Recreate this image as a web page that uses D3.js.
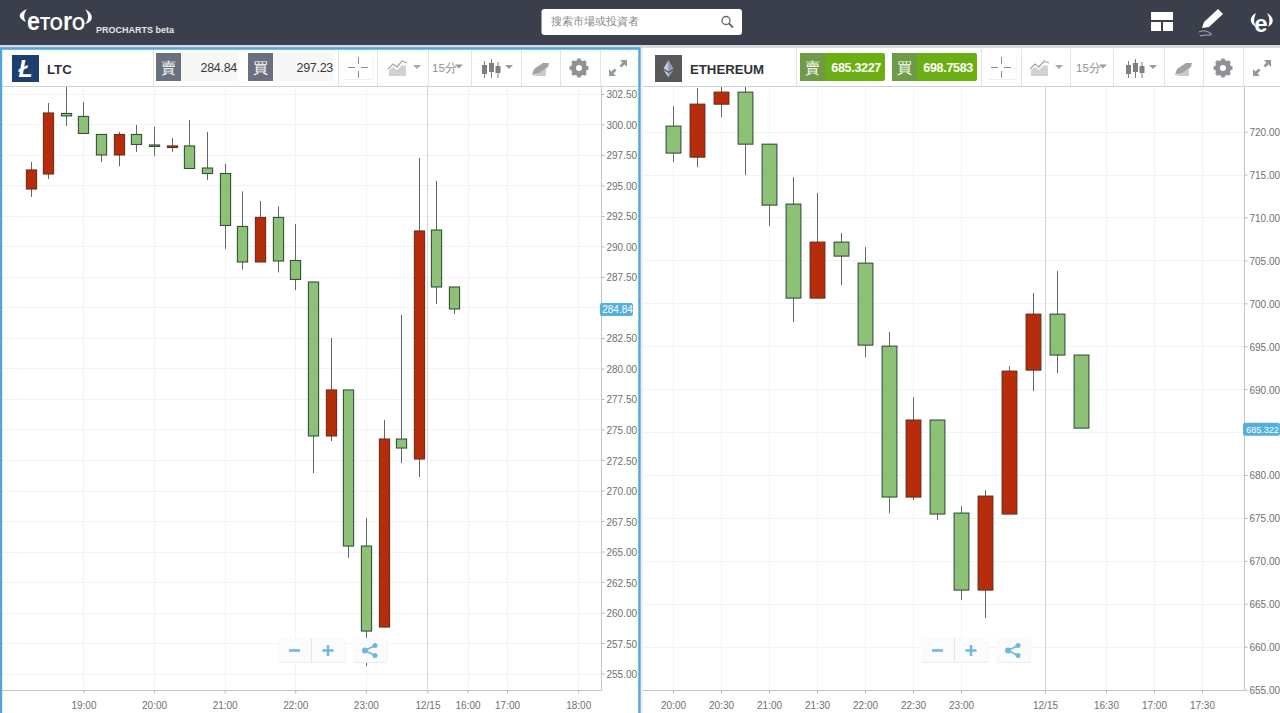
<!DOCTYPE html>
<html><head><meta charset="utf-8">
<script src="https://cdn.jsdelivr.net/npm/d3@7/dist/d3.min.js"></script>
<style>html,body{margin:0;padding:0;background:#fff;overflow:hidden}svg{display:block}
text{font-family:"Liberation Sans",Arial,sans-serif}</style></head><body>
<svg id="c" width="1280" height="713"></svg>
<script>
// ---- LTC data (15 min candles)
const ltcOpen =[294.71,295.94,300.9,300.66,299.18,297.5,299.18,298.32,298.11,298.24,296.43,295.98,291.64,288.73,292.38,288.85,287.09,274.47,278.24,265.45,258.81,274.22,272.58,291.35,286.68];
const ltcClose=[296.27,300.94,300.7,299.26,297.5,299.18,298.36,298.2,298.24,296.39,295.98,291.72,288.73,292.38,288.81,287.3,274.47,278.24,265.45,258.48,274.22,273.48,291.27,286.68,284.88];
const ltcHigh =[296.93,301.76,303.5,301.84,299.18,299.39,299.96,299.8,298.89,300.37,299.39,296.76,294.51,293.73,293.28,291.84,287.09,282.5,278.24,267.75,275.78,284.39,297.25,295.37,286.68];
const ltcLow  =[294.06,295.53,299.88,299.26,296.93,296.56,297.75,297.42,297.75,296.35,295.45,289.8,288.11,288.73,287.87,286.43,271.43,274.06,264.47,255.61,258.81,272.25,271.11,285.29,284.47];
const ltcYTicks=d3.range(255,302.51,2.5);
const ltcXTickSlots=[3,7,11,15,19,22.49,24.76,27,31.03];
const ltcXTickLabels=["19:00","20:00","21:00","22:00","23:00","12/15","16:00","17:00","18:00"];
// ---- ETHEREUM data (15 min candles)
const ethOpen =[720.64,717.03,723.2,724.6,718.54,711.56,700.61,707.13,704.68,695.01,677.43,686.4,675.56,666.59,675.45,692.22,698.74,693.97];
const ethClose=[717.5,723.2,724.6,718.54,711.44,700.61,707.13,705.5,695.13,677.43,686.4,675.45,666.59,677.54,692.1,698.74,693.97,685.46];
const ethHigh =[722.97,725.07,725.6,725.6,718.54,714.7,712.84,708.18,706.55,696.65,689.07,686.4,676.38,678.24,692.68,701.19,703.75,693.97];
const ethLow  =[716.45,715.86,721.69,714.93,709,697.81,700.61,702.12,693.73,675.56,677.08,674.75,665.43,663.33,675.45,689.77,691.87,685.46];
const ethYTicks=d3.range(655,720.1,5);
const ethXTickSlots=[0,2,4,6,8,10,12,15.5,18.04,20.04,22.04];
const ethXTickLabels=["20:00","20:30","21:00","21:30","22:00","22:30","23:00","12/15","16:30","17:00","17:30"];

const svg=d3.select("#c");
const UI='"Open Sans","Noto Sans CJK TC",sans-serif';
const CJK='"Noto Sans CJK TC",sans-serif';

// page chrome
svg.append("rect").attr("width",1280).attr("height",713).attr("fill","#fff");
svg.append("rect").attr("width",1280).attr("height",45).attr("fill","#3b3f4c");
svg.append("rect").attr("y",45).attr("width",1280).attr("height",3).attr("fill","#d9dadc");

function chart(cfg){
  const g=svg.append("g");
  const x=d3.scaleLinear().domain([0,cfg.open.length-1]).range(cfg.xr);
  const y=d3.scaleLinear().domain(cfg.yd).range([cfg.top,cfg.bottom]);
  const clipId="clip"+cfg.id;
  svg.append("clipPath").attr("id",clipId).append("rect")
    .attr("x",cfg.left).attr("y",cfg.top).attr("width",cfg.right-cfg.left).attr("height",cfg.bottom-cfg.top);
  const grid=g.append("g");
  cfg.yTicks.forEach(v=>grid.append("line").attr("x1",cfg.left).attr("x2",cfg.right)
    .attr("y1",Math.round(y(v))+.5).attr("y2",Math.round(y(v))+.5).attr("stroke","#f3f3f3"));
  cfg.xSlots.forEach((s,i)=>grid.append("line").attr("x1",Math.round(x(s))+.5).attr("x2",Math.round(x(s))+.5)
    .attr("y1",cfg.top).attr("y2",cfg.bottom).attr("stroke",cfg.xLabels[i]==="12/15"?"#d6d6d6":"#f3f3f3"));
  const marks=g.append("g").attr("clip-path",`url(#${clipId})`);
  const n=d3.range(cfg.open.length);
  marks.selectAll("line").data(n).join("line")
    .attr("x1",i=>Math.round(x(i))+.5).attr("x2",i=>Math.round(x(i))+.5)
    .attr("y1",i=>y(cfg.high[i])).attr("y2",i=>y(cfg.low[i])).attr("stroke","#666").attr("stroke-width",1);
  marks.selectAll("rect").data(n).join("rect")
    .attr("x",i=>Math.round(x(i))+.5-cfg.bw/2).attr("width",cfg.bw)
    .attr("y",i=>y(Math.max(cfg.open[i],cfg.close[i])))
    .attr("height",i=>Math.max(1,Math.abs(y(cfg.open[i])-y(cfg.close[i]))))
    .attr("fill",i=>cfg.close[i]>=cfg.open[i]?"#b72d0b":"#8dc177")
    .attr("stroke",i=>cfg.close[i]>=cfg.open[i]?"#66301c":"#37503a").attr("stroke-width",1.1);
  // axes (the tick under the last-price flag carries no label, as in the reference)
  const fmt=d3.format(".2f");
  const yAxis=d3.axisRight(y).tickValues(cfg.yTicks).tickFormat(d=>d===cfg.hiddenTick?"":fmt(d)).tickSize(3).tickPadding(2);
  const ya=g.append("g").attr("transform",`translate(${cfg.right+.5},0)`).call(yAxis);
  ya.selectAll("text").attr("dy","0.4em");
  const xAxis=d3.axisBottom(x).tickValues(cfg.xSlots).tickFormat((d,i)=>cfg.xLabels[i]).tickSize(3).tickPadding(8);
  const xa=g.append("g").attr("transform",`translate(0,${cfg.bottom+.5})`).call(xAxis);
  [ya,xa].forEach(a=>{a.selectAll("path").attr("stroke","#c4c4c4").attr("d",null);
    a.selectAll("line").attr("stroke","#b5b5b5");
    a.selectAll("text").attr("fill","#707070").attr("font-size",10).attr("font-family",'"Liberation Sans",Arial,sans-serif');});
  g.append("line").attr("x1",cfg.right+.5).attr("x2",cfg.right+.5).attr("y1",cfg.top).attr("y2",cfg.bottom+.5).attr("stroke","#c4c4c4");
  g.append("line").attr("x1",cfg.left).attr("x2",cfg.right+.5).attr("y1",cfg.bottom+.5).attr("y2",cfg.bottom+.5).attr("stroke","#c4c4c4");
  // last price flag
  const py=y(cfg.last);
  g.append("rect").attr("x",cfg.right-1).attr("y",py-6.5).attr("width",cfg.flagW).attr("height",13).attr("rx",2).attr("fill","#55b1dc");
  g.append("text").attr("x",cfg.right+cfg.flagW/2).attr("y",py+3.5).attr("text-anchor","middle").attr("font-size",cfg.flagFont).attr("fill","#fff").text(cfg.lastLabel);
  // toolbar
  const o=cfg.tb;
  g.append("line").attr("x1",cfg.left).attr("x2",cfg.tbRight).attr("y1",cfg.top-.5).attr("y2",cfg.top-.5).attr("stroke","#cfd2d6");
  o.dividers.forEach(d=>g.append("line").attr("x1",d+.5).attr("x2",d+.5).attr("y1",49).attr("y2",86).attr("stroke","#e4e4e4"));
  // logo
  g.append("rect").attr("x",o.logo).attr("y",55).attr("width",27).attr("height",27).attr("fill",cfg.logoColor);
  if(cfg.id==="ltc"){
    g.append("text").attr("x",o.logo+13.5).attr("y",76.5).attr("text-anchor","middle").attr("font-size",23).attr("font-weight",700)
     .attr("font-style","italic").attr("fill","#fff").attr("font-family","DejaVu Sans").text("Ł");
  } else {
    const c=o.logo+13.5;
    g.append("path").attr("d",`M${c} 60L${c+5} 68.5L${c} 71.5Z`).attr("fill","#8f9bb8");
    g.append("path").attr("d",`M${c} 60L${c-5} 68.5L${c} 71.5Z`).attr("fill","#c4cbe0");
    g.append("path").attr("d",`M${c} 73L${c+5} 70L${c} 77.5Z`).attr("fill","#8f9bb8");
    g.append("path").attr("d",`M${c} 73L${c-5} 70L${c} 77.5Z`).attr("fill","#c4cbe0");
  }
  g.append("text").attr("x",o.logo+35).attr("y",73.5).attr("font-size",13.2).attr("font-weight",700).attr("fill","#2f3238")
    .attr("font-family",UI).text(cfg.name);
  // price boxes
  [[o.sell,"賣",cfg.sell,o.sellW],[o.buy,"買",cfg.buy,o.buyW]].forEach(b=>{
    g.append("rect").attr("x",b[0]).attr("y",53).attr("width",25+b[3]).attr("height",28).attr("rx",2).attr("fill",cfg.valBg);
    g.append("rect").attr("x",b[0]).attr("y",53).attr("width",25).attr("height",28).attr("fill",cfg.lblBg);
    g.append("text").attr("x",b[0]+12.5).attr("y",73).attr("text-anchor","middle").attr("font-size",15).attr("fill","#fff").attr("font-family",CJK).text(b[1]);
    g.append("text").attr("x",b[0]+25+b[3]-cfg.valInset).attr("y",72).attr("text-anchor","end").attr("font-size",12.5).attr("font-weight",cfg.valWeight)
      .attr("fill",cfg.valColor).attr("font-family",UI).attr("letter-spacing",-.3).text(b[2]);
  });
  // crosshair button
  const cx=o.cross;
  g.append("rect").attr("x",cx-14.5).attr("y",54).attr("width",30).attr("height",26).attr("rx",3).attr("fill","#ededed");
  g.append("rect").attr("x",cx-15).attr("y",53).attr("width",30).attr("height",26).attr("rx",3).attr("fill","#fff");
  g.append("path").attr("d",`M${cx-10} 67.5h7M${cx+3} 67.5h7M${cx+.5} 57v7M${cx+.5} 71v7`).attr("stroke","#8a8a8a").attr("fill","none");
  // line icon
  const ic="#a4a7ab";
  g.append("path").attr("d",`M${o.line-9} 76v-6l4-3 4 3 5-5 4 1v10z`).attr("fill","#cfd1d4");
  g.append("path").attr("d",`M${o.line-10} 69l5-5 4 3 5-6 5 2`).attr("stroke",ic).attr("fill","none").attr("stroke-width",1.3);
  g.append("path").attr("d",`M${o.line+15} 65h8l-4 4z`).attr("fill",ic);
  g.append("text").attr("x",o.tf).attr("y",72).attr("font-size",11.5).attr("fill","#8d8f93").attr("font-family",CJK).text("15分");
  g.append("path").attr("d",`M${o.tf+23} 64.5h8l-4 4z`).attr("fill","#9a9a9a");
  // candle icon
  [-6.5,0.5,7].forEach((d,i)=>{const c=o.candle+d;
    g.append("path").attr("d",`M${c} ${[61,59,62][i]}v${[17,19,16][i]}`).attr("stroke","#7d7f83");
    g.append("rect").attr("x",c-2.5).attr("y",[65,63,66][i]).attr("width",5).attr("height",[9,9,7][i]).attr("fill","#7d7f83");});
  g.append("path").attr("d",`M${o.candle+14} 65h8l-4 4z`).attr("fill","#9a9a9a");
  // pen icon
  g.append("path").attr("d",`M${o.pen-8} 76l13 -8v8z`).attr("fill","#c9cbce");
  g.append("path").attr("d",`M${o.pen-9} 75l2-6 9-6 6 0 -1 4 -9 6z`).attr("fill","#a0a2a6");
  // gear
  const gx=o.gear;
  g.append("circle").attr("cx",gx).attr("cy",68).attr("r",5.5).attr("fill","none").attr("stroke","#8f9195").attr("stroke-width",5);
  d3.range(8).forEach(k=>g.append("rect").attr("x",gx-1.8).attr("y",58.5).attr("width",3.6).attr("height",3.5).attr("fill","#8f9195").attr("transform",`rotate(${k*45} ${gx} 68)`));
  // expand
  const ex=o.expand;
  g.append("path").attr("d",`M${ex+2} 60h7v7l-2.5-2.5-3 3-2-2 3-3zM${ex-2} 76h-7v-7l2.5 2.5 3-3 2 2-3 3z`).attr("fill","#8f9a9f");
  // zoom buttons
  const z=cfg.zoom;
  const zg=g.append("g");
  zg.append("rect").attr("x",z+.5).attr("y",639).attr("width",67).attr("height",24).attr("rx",2).attr("fill","#ececec");
  zg.append("rect").attr("x",z).attr("y",638).attr("width",67).attr("height",24).attr("rx",2).attr("fill","#fbfbfb");
  zg.append("line").attr("x1",z+33.5).attr("x2",z+33.5).attr("y1",638).attr("y2",662).attr("stroke","#e4e4e4");
  zg.append("rect").attr("x",z+75.5).attr("y",639).attr("width",34).attr("height",24).attr("rx",2).attr("fill","#ececec");
  zg.append("rect").attr("x",z+75).attr("y",638).attr("width",34).attr("height",24).attr("rx",2).attr("fill","#fbfbfb");
  const b="#6fb8da";
  zg.append("path").attr("d",`M${z+11} 650.5h11M${z+44.5} 650.5h11M${z+50} 645v11`).attr("stroke",b).attr("stroke-width",2.4);
  zg.append("path").attr("d",`M${z+97} 645.5L${z+87} 650.5L${z+97} 655.5`).attr("stroke",b).attr("stroke-width",1.6).attr("fill","none");
  [[97,645.5,2.5],[87,650.5,3],[97,655.5,2.5]].forEach(p=>zg.append("circle").attr("cx",z+p[0]).attr("cy",p[1]).attr("r",p[2]).attr("fill",b));
}

chart({id:"ltc",name:"LTC",open:ltcOpen,close:ltcClose,high:ltcHigh,low:ltcLow,yTicks:ltcYTicks,xSlots:ltcXTickSlots,xLabels:ltcXTickLabels,hiddenTick:285,
  xr:[30.5,454.1],yd:[303.07,253.65],left:2,right:601,top:87,bottom:690,bw:10.2,last:284.84,lastLabel:"284.84",flagW:33,flagFont:10,
  logoColor:"#1d3f6e",sell:"284.84",buy:"297.23",valBg:"#f7f7f8",lblBg:"#6a7080",valColor:"#3a3a3a",valWeight:400,valInset:1,tbRight:638,
  tb:{logo:12,sell:156,sellW:57,buy:248,buyW:61,cross:358,line:398,tf:432,candle:491,pen:541,gear:579,expand:618,dividers:[153,338,377,428,471,521,560,600]},zoom:278});
chart({id:"eth",name:"ETHEREUM",open:ethOpen,close:ethClose,high:ethHigh,low:ethLow,yTicks:ethYTicks,xSlots:ethXTickSlots,xLabels:ethXTickLabels,hiddenTick:685,
  xr:[673,1081],yd:[725.2,654.95],left:643,right:1244,top:87,bottom:690,bw:14.8,last:685.3227,lastLabel:"685.322",flagW:37,flagFont:9,
  logoColor:"#57585a",sell:"685.3227",buy:"698.7583",valBg:"#6bb012",lblBg:"#6f9a48",valColor:"#fff",valWeight:600,valInset:4,tbRight:1280,
  tb:{logo:655,sell:800,sellW:60,buy:892,buyW:60,cross:1001,line:1040,tf:1076,candle:1135,pen:1184,gear:1223,expand:1262,dividers:[796,981,1021,1070,1113,1164,1203,1243]},zoom:921});

// active panel border
svg.append("path").attr("d","M1 713V48.5H639.5V713").attr("fill","none").attr("stroke","#4da6dd").attr("stroke-width",2.4);
svg.append("rect").attr("x",641).attr("y",48).attr("width",2).attr("height",665).attr("fill","#f0f0f0");

// header
const h=svg.append("g");
const logoT=h.append("text").attr("x",27).attr("y",30).attr("fill","#fff").attr("font-family","Lato,sans-serif").attr("font-weight",700)
  .attr("textLength",58).attr("lengthAdjust","spacingAndGlyphs");
[["e",25],["T",18],["O",18],["r",25],["O",18]].forEach(p=>logoT.append("tspan").attr("font-size",p[1]).text(p[0]));
h.append("path").attr("d","M27 9C18 13 17 18 26 22C23 17 24 13 27 9Z").attr("fill","#fff");
h.append("path").attr("d","M85 9C89 14 89 20 85 24C92 23 96 15 85 9Z").attr("fill","#fff");
h.append("text").attr("x",96).attr("y",33).attr("font-size",9).attr("font-weight",700).attr("fill","#e6e7ea").attr("font-family",UI).text("PROCHARTS beta");
h.append("rect").attr("x",541.5).attr("y",9).attr("width",200.5).attr("height",26).attr("rx",3).attr("fill","#fff");
h.append("text").attr("x",551).attr("y",25).attr("font-size",11.2).attr("fill","#8a8a8a").attr("font-family",CJK).text("搜索市場或投資者");
h.append("circle").attr("cx",726).attr("cy",20.5).attr("r",4).attr("fill","none").attr("stroke","#666").attr("stroke-width",1.3);
h.append("path").attr("d","M729 23.5l4 4").attr("stroke","#666").attr("stroke-width",1.8);
// layout icon
h.append("rect").attr("x",1151).attr("y",12).attr("width",22).attr("height",8).attr("fill","#fff");
h.append("rect").attr("x",1151).attr("y",22).attr("width",10).attr("height",9).attr("fill","#fff");
h.append("rect").attr("x",1163).attr("y",22).attr("width",10).attr("height",9).attr("fill","#fff");
// pencil icon
h.append("path").attr("d","M1202 28l2 -6 14-13 5 5-14 13z").attr("fill","#fff");
h.append("path").attr("d","M1199 32c4 -2 8 -1 11 1c2 1 2 2 0 2c-3 0 -7 0 -10 1").attr("stroke","#b5b6ba").attr("fill","none").attr("stroke-width",1);
// user icon
h.append("text").attr("x",1261).attr("y",32).attr("text-anchor","middle").attr("font-size",24).attr("font-weight",700).attr("fill","#fff").attr("font-family","Lato,sans-serif").text("e");
h.append("path").attr("d","M1256 13C1249 17 1249 23 1256 27C1253 22 1254 18 1256 13ZM1267 13C1274 17 1275 23 1268 27C1270 22 1270 18 1267 13Z").attr("fill","#fff");
</script></body></html>
